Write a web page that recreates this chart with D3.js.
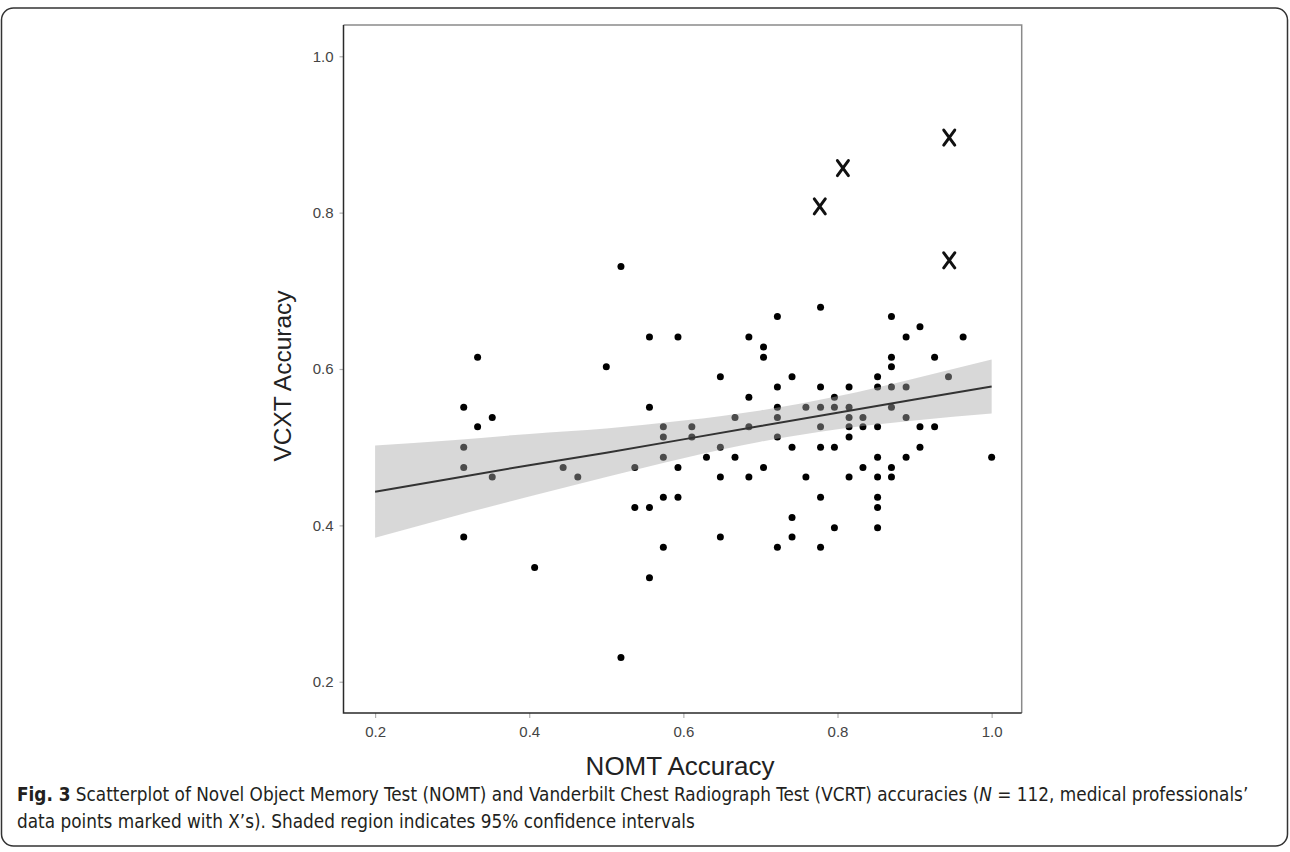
<!DOCTYPE html>
<html>
<head>
<meta charset="utf-8">
<script src="https://d3js.org/d3.v7.min.js"></script>
<style>
	body { margin: 0; background: #fff; }
	.tick text { font-family: "Liberation Sans", Arial, sans-serif; font-size: 15px; fill: #444; }
	.tick line { stroke: #b0b0b0; stroke-width: 1.2; }
	.caption { font-family: "DejaVu Sans Condensed", sans-serif; font-stretch: condensed; font-size: 18.8px; fill: #231f20; }
</style>
</head>
<body>
<div id="scatter"></div>
<script>

var svgWidth = 1290;
var svgHeight = 852;

// NOMT accuracy (x) and VCXT accuracy (y) of each participant
var nomt = [0.315, 0.315, 0.315, 0.315, 0.333, 0.333, 0.352, 0.352, 0.407, 0.444, 0.463, 0.5, 0.519, 0.519,
	0.537, 0.537, 0.556, 0.556, 0.556, 0.556, 0.574, 0.574, 0.574, 0.574, 0.574, 0.593, 0.593, 0.593, 0.611, 0.611,
	0.63, 0.648, 0.648, 0.648, 0.648, 0.667, 0.667, 0.685, 0.685, 0.685, 0.685, 0.704, 0.704, 0.704,
	0.722, 0.722, 0.722, 0.722, 0.722, 0.722, 0.741, 0.741, 0.741, 0.741, 0.759, 0.759,
	0.778, 0.778, 0.778, 0.778, 0.778, 0.778, 0.778, 0.796, 0.796, 0.796, 0.796,
	0.815, 0.815, 0.815, 0.815, 0.815, 0.815, 0.833, 0.833, 0.833,
	0.852, 0.852, 0.852, 0.852, 0.852, 0.852, 0.852, 0.852, 0.87, 0.87, 0.87, 0.87, 0.87, 0.87, 0.87,
	0.889, 0.889, 0.889, 0.889, 0.907, 0.907, 0.907, 0.926, 0.926, 0.944, 0.963, 1.0];
var vcxt = [0.551, 0.5, 0.474, 0.385, 0.615, 0.526, 0.538, 0.462, 0.346, 0.474, 0.462, 0.603, 0.731, 0.231,
	0.474, 0.423, 0.641, 0.551, 0.423, 0.333, 0.526, 0.513, 0.487, 0.436, 0.372, 0.641, 0.474, 0.436, 0.526, 0.513,
	0.487, 0.59, 0.5, 0.462, 0.385, 0.538, 0.487, 0.641, 0.564, 0.526, 0.462, 0.628, 0.615, 0.474,
	0.667, 0.577, 0.551, 0.538, 0.513, 0.372, 0.59, 0.5, 0.41, 0.385, 0.551, 0.462,
	0.679, 0.577, 0.551, 0.526, 0.5, 0.436, 0.372, 0.564, 0.551, 0.5, 0.397,
	0.577, 0.551, 0.538, 0.526, 0.513, 0.462, 0.538, 0.526, 0.474,
	0.59, 0.577, 0.526, 0.487, 0.462, 0.436, 0.423, 0.397, 0.667, 0.615, 0.603, 0.577, 0.551, 0.474, 0.462,
	0.641, 0.577, 0.538, 0.487, 0.654, 0.526, 0.5, 0.615, 0.526, 0.59, 0.641, 0.487];

// medical professionals, marked with X's
var medNomt = [0.945, 0.807, 0.777, 0.945];
var medVcxt = [0.896, 0.857, 0.808, 0.739];

// fitted line and 95% confidence band
var fitX = [0.2, 0.3, 0.4, 0.5, 0.6, 0.7, 0.8, 0.9, 1.0];
var fitY = [0.443, 0.460, 0.477, 0.493, 0.510, 0.527, 0.544, 0.561, 0.5775];
var ciLow = [0.384, 0.411, 0.437, 0.462, 0.486, 0.507, 0.523, 0.534, 0.543];
var ciHigh = [0.502, 0.509, 0.517, 0.524, 0.534, 0.547, 0.565, 0.588, 0.612];

var tickVals = [0.2, 0.4, 0.6, 0.8, 1.0];

var svg = d3.select("#scatter")
	.append("svg")
	.attr("width", svgWidth)
	.attr("height", svgHeight);

// outer figure border
svg.append("rect")
	.attr("x", 1.5)
	.attr("y", 8)
	.attr("width", 1286)
	.attr("height", 838)
	.attr("rx", 12)
	.attr("fill", "none")
	.attr("stroke", "#333")
	.attr("stroke-width", 1.5);

var xScale = d3.scaleLinear()
	.domain([0.159, 1.039])
	.range([343.5, 1021.7]);

var yScale = d3.scaleLinear()
	.domain([0.16, 1.04])
	.range([713, 25]);

// axes
var leftAxis = d3.axisLeft(yScale)
	.tickValues(tickVals)
	.tickFormat(d3.format(".1f"))
	.tickSize(4)
	.tickPadding(6);

var bottomAxis = d3.axisBottom(xScale)
	.tickValues(tickVals)
	.tickFormat(d3.format(".1f"))
	.tickSize(5)
	.tickPadding(8);

svg.append("g")
	.attr("transform", "translate(343.5, 0)")
	.call(leftAxis)
	.call(g => g.select(".domain").remove());

svg.append("g")
	.attr("transform", "translate(0, 713)")
	.call(bottomAxis)
	.call(g => g.select(".domain").remove());

// data points
svg.append("g")
	.selectAll("circle")
	.data(nomt)
	.enter()
	.append("circle")
	.attr("cx", (d, i) => xScale(d))
	.attr("cy", (d, i) => yScale(vcxt[i]))
	.attr("r", 3.5)
	.attr("fill", "#000");

// confidence band over the points
var band = d3.area()
	.x((d, i) => xScale(fitX[i]))
	.y0((d, i) => yScale(ciLow[i]))
	.y1((d, i) => yScale(ciHigh[i]))
	.curve(d3.curveMonotoneX);

svg.append("path")
	.datum(fitX)
	.attr("d", band)
	.attr("fill", "#a8a8a8")
	.attr("fill-opacity", 0.45);

var fitLine = d3.line()
	.x((d, i) => xScale(fitX[i]))
	.y((d, i) => yScale(fitY[i]));

svg.append("path")
	.datum(fitX)
	.attr("d", fitLine)
	.attr("fill", "none")
	.attr("stroke", "#333")
	.attr("stroke-width", 2);

// X markers
svg.append("g")
	.selectAll("path")
	.data(medNomt)
	.enter()
	.append("path")
	.attr("transform", (d, i) => `translate(${xScale(d)}, ${yScale(medVcxt[i])})`)
	.attr("d", "M-5.5,-7.5 Q0,0 5.5,7.5 M5.5,-7.5 Q0,0 -5.5,7.5")
	.attr("fill", "none")
	.attr("stroke", "#111")
	.attr("stroke-width", 3)
	.attr("stroke-linecap", "round");

// plot frame
var frame = svg.append("g").attr("fill", "none").attr("stroke-width", 1.5);
frame.append("path").attr("d", "M343.5,25 H1021.7 V713").attr("stroke", "#8a8a8a");
frame.append("path").attr("d", "M343.5,25 V713 H1021.7").attr("stroke", "#2a2a2a");

// axis titles
svg.append("text")
	.attr("transform", "translate(291, 376) rotate(-90)")
	.attr("text-anchor", "middle")
	.attr("font-family", "Liberation Sans, Arial, sans-serif")
	.attr("font-size", 24.5)
	.attr("fill", "#222")
	.text("VCXT Accuracy");

svg.append("text")
	.attr("x", 680)
	.attr("y", 775)
	.attr("text-anchor", "middle")
	.attr("font-family", "Liberation Sans, Arial, sans-serif")
	.attr("font-size", 26)
	.attr("fill", "#222")
	.text("NOMT Accuracy");

// caption
var cap1 = svg.append("text")
	.attr("class", "caption")
	.attr("x", 17)
	.attr("y", 801);
cap1.append("tspan").attr("font-weight", "bold").text("Fig. 3");
cap1.append("tspan").text(" Scatterplot of Novel Object Memory Test (NOMT) and Vanderbilt Chest Radiograph Test (VCRT) accuracies (");
cap1.append("tspan").attr("font-style", "italic").text("N");
cap1.append("tspan").text(" = 112, medical professionals\u2019");

svg.append("text")
	.attr("class", "caption")
	.attr("x", 17)
	.attr("y", 828)
	.text("data points marked with X\u2019s). Shaded region indicates 95% confidence intervals");

</script>
</body>
</html>
